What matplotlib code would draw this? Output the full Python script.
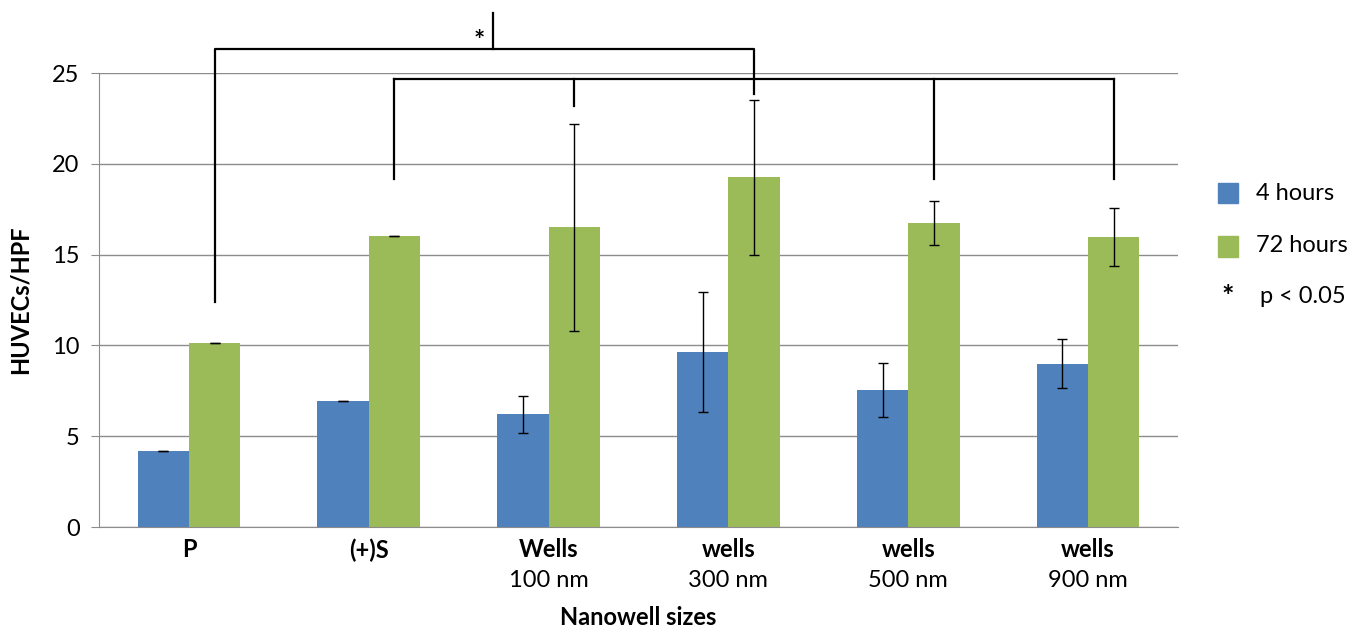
import matplotlib
matplotlib.use("Agg")
import matplotlib.pyplot as plt
import matplotlib.transforms as mtransforms
import numpy as np

plt.rcParams['font.family'] = ['Lato', 'DejaVu Sans']

# data
categories = ['P', '(+)S', 'Wells', 'wells', 'wells', 'wells']
sizes = ['', '', '100 nm', '300 nm', '500 nm', '900 nm']
h4 = [4.2, 6.95, 6.2, 9.65, 7.55, 9.0]
h4_err = [0.0, 0.0, 1.0, 3.3, 1.5, 1.35]
h72 = [10.15, 16.03, 16.5, 19.25, 16.75, 15.95]
h72_err = [0.0, 0.0, 5.7, 4.25, 1.2, 1.6]

# significance brackets: (category index, lower end of drop)
upper_drops = [(0, 12.4), (3, 23.85)]
upper_level = 26.33
lower_drops = [(1, 19.18), (2, 23.18), (4, 19.18), (5, 19.18)]
lower_level = 24.67

blue = '#4F81BD'
green = '#9BBB59'
grid_c = '#8C8C8C'
fs = 17

fig = plt.figure(figsize=(13.58, 6.31), dpi=100)
ax = fig.add_axes([99/1358, 1-527/631, (1178-99)/1358, 454/631])

x = np.arange(len(categories))
w = 0.285
ax.bar(x - w/2, h4, w, color=blue, zorder=2, label='4 hours')
ax.bar(x + w/2, h72, w, color=green, zorder=2, label='72 hours')
ax.errorbar(x - w/2, h4, yerr=h4_err, fmt='none', ecolor='black', elinewidth=1, capsize=3.6, capthick=1, zorder=3)
ax.errorbar(x + w/2, h72, yerr=h72_err, fmt='none', ecolor='black', elinewidth=1, capsize=3.6, capthick=1, zorder=3)

ax.set_xlim(-0.5, 5.5)
ax.set_ylim(0, 25)
ax.set_yticks([0, 5, 10, 15, 20, 25])
ax.yaxis.grid(True, color=grid_c, linewidth=1.0, zorder=0)
ax.set_axisbelow(True)
for s in ['top', 'right']:
    ax.spines[s].set_visible(False)
ax.spines['left'].set_color(grid_c)
ax.spines['bottom'].set_color(grid_c)
ax.tick_params(axis='y', length=6, color=grid_c, labelsize=fs, pad=8)
ax.tick_params(axis='x', length=0, labelsize=fs, pad=8)
ax.set_xticks(x)
ax.set_xticklabels(categories, fontweight='bold')

trans = mtransforms.blended_transform_factory(ax.transData, ax.transAxes)
for xi, s in zip(x, sizes):
    ax.text(xi, -0.117, s, transform=trans, ha='center', va='center', fontsize=fs)

ax.text(0.5, -0.2, 'Nanowell sizes', transform=ax.transAxes, ha='center', va='center',
        fontsize=fs, fontweight='bold')
ax.set_ylabel('HUVECs/HPF', fontsize=fs, fontweight='bold', labelpad=15)

# brackets
lw = 1.6
ux = [i + w/2 for i, _ in upper_drops]
ax.plot([ux[0], ux[0], ux[1], ux[1]], [upper_drops[0][1], upper_level, upper_level, upper_drops[1][1]],
        color='black', lw=lw, clip_on=False, zorder=4)
ax.plot([1.69, 1.69], [upper_level, 28.3], color='black', lw=lw, clip_on=False, zorder=4)
ax.text(1.613, 26.75, '*', ha='center', va='center', fontsize=19, fontweight='bold', clip_on=False)
lx = [i + w/2 for i, _ in lower_drops]
ax.plot([lx[0], lx[-1]], [lower_level, lower_level], color='black', lw=lw, clip_on=False, zorder=4)
for xi, (_, lo) in zip(lx, lower_drops):
    ax.plot([xi, xi], [lo, lower_level], color='black', lw=lw, clip_on=False, zorder=4)

# legend (drawn manually in figure pixels)
fig.patches.append(plt.Rectangle((1218/1358, 1-203/631), 20/1358, 20/631, color=blue, transform=fig.transFigure))
fig.patches.append(plt.Rectangle((1218/1358, 1-257/631), 20/1358, 21/631, color=green, transform=fig.transFigure))
fig.text(1256/1358, 1-193/631, '4 hours', ha='left', va='center', fontsize=fs)
fig.text(1256/1358, 1-246/631, '72 hours', ha='left', va='center', fontsize=fs)
fig.text(1228/1358, 1-297/631, '*', ha='center', va='center', fontsize=21, fontweight='bold')
fig.text(1260/1358, 1-297/631, 'p < 0.05', ha='left', va='center', fontsize=fs)

fig.savefig('out.png', dpi=100, facecolor='white')
